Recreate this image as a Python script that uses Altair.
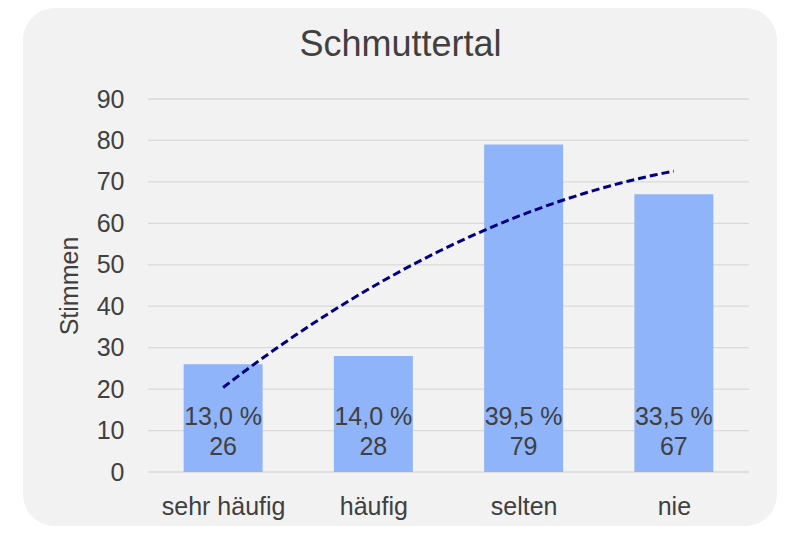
import altair as alt
import pandas as pd

categories = ["sehr häufig", "häufig", "selten", "nie"]
votes = [26, 28, 79, 67]
percent_labels = ["13,0 %", "14,0 %", "39,5 %", "33,5 %"]
y_ticks = [0, 10, 20, 30, 40, 50, 60, 70, 80, 90]

df = pd.DataFrame({
    "idx": list(range(1, len(categories) + 1)),
    "cat": categories,
    "value": votes,
    "label": [f"{p}\n{v}" for p, v in zip(percent_labels, votes)],
})
grid_df = pd.DataFrame({"value": y_ticks})

FONT = "Liberation Sans"
TXT = "#404040"
cat_array = "[" + ",".join("'" + c + "'" for c in categories) + "]"

x_enc = alt.X(
    "idx:Q",
    scale=alt.Scale(domain=[0.5, 4.5], nice=False, zero=False, padding=0),
    axis=alt.Axis(values=[1, 2, 3, 4], labelExpr=f"{cat_array}[datum.value-1]",
                  grid=False, ticks=False, domain=False, title=None, zindex=2,
                  labelFontSize=25, labelColor=TXT, labelFont=FONT, labelPadding=22),
)
y_axis = alt.Axis(values=y_ticks, title="Stimmen", titleFontSize=25, titleFont=FONT,
                  titleColor=TXT, titleFontWeight="normal", titlePadding=14, zindex=2,
                  labelFontSize=25, labelColor=TXT, labelFont=FONT, labelPadding=24,
                  ticks=False, domain=False, grid=False)
y_scale = alt.Scale(domain=[0, 90], nice=False)

bg = alt.Chart(alt.Data(values=[{"a": 1}])).mark_rect(
    color="#f2f2f2", cornerRadius=32, clip=False
).encode(
    x=alt.value(-125), x2=alt.value(629), y=alt.value(-91), y2=alt.value(427)
)

grid = alt.Chart(grid_df).mark_rule(color="#d9d9d9", strokeWidth=1.3).encode(
    y=alt.Y("value:Q", scale=y_scale, axis=y_axis)
)

base = alt.Chart(df)

bars = base.mark_bar(size=79, color="#8fb4f9").encode(
    x=x_enc, y=alt.Y("value:Q", scale=y_scale, axis=y_axis)
)

texts = base.mark_text(
    fontSize=25, font=FONT, color=TXT, baseline="alphabetic", align="center",
    lineBreak="\n", lineHeight=30, dy=-47
).encode(x="idx:Q", y=alt.datum(0), text="label:N")

trend = base.transform_regression(
    "idx", "value", method="poly", order=2, extent=[1, 4]
).mark_line(color="#000080", strokeDash=[8, 4], strokeWidth=3).encode(
    x="idx:Q", y="value:Q"
)

chart = alt.layer(bg, grid, bars, texts, trend).properties(
    width=601, height=373,
    title=alt.TitleParams("Schmuttertal", fontSize=36, font=FONT, color=TXT,
                          fontWeight="normal", anchor="middle", zindex=2, dx=-48,
                          baseline="alphabetic", offset=-84),
    autosize=alt.AutoSizeParams(type="none"),
    padding={"left": 140, "top": 91, "right": 29, "bottom": 54},
).configure_view(stroke=None).configure(background="white")

chart.save("out.html", embed_options={"renderer": "svg", "actions": False})
